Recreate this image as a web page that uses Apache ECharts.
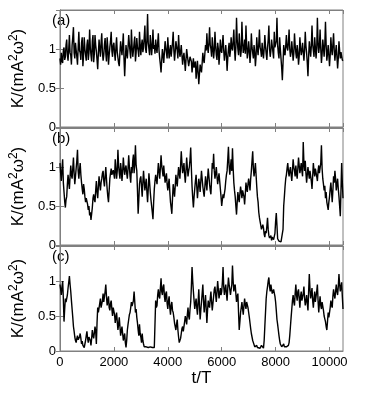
<!DOCTYPE html>
<html>
<head>
<meta charset="utf-8">
<title></title>
<script src="https://cdn.jsdelivr.net/npm/echarts@6/dist/echarts.min.js"></script>
<style>html,body{margin:0;padding:0;background:#fff;}</style>
</head>
<body>
<div id="mainChart" style="width:374px;height:394px;"></div>
<script type="text/javascript">
// sampling step along t/T (each row below = 1000 t/T)
var tStep = 25;

// panel (a) K/(mA^2 w^2), t = 0..10500
var kA = [
	0.88,0.80,0.95,0.85,0.82,0.98,1.02,0.86,0.90,1.05,1.12,0.92,0.85,1.00,1.18,0.95,0.92,0.80,1.05,1.15,
	1.28,0.95,0.88,1.08,1.10,0.90,0.80,1.02,1.22,0.98,0.95,0.86,1.08,1.15,0.78,0.92,1.15,1.00,0.98,0.85,
	1.05,1.12,0.86,0.95,1.25,1.02,0.92,0.84,1.10,1.18,0.83,0.94,1.18,1.05,0.97,0.86,0.74,0.95,1.12,1.00,
	0.90,1.08,1.20,0.96,0.85,0.92,1.06,1.14,0.95,0.84,1.15,1.02,0.80,0.92,1.02,1.10,1.22,0.98,0.90,1.05,
	1.08,0.95,0.85,1.02,1.15,0.96,0.94,0.82,0.78,0.96,1.10,1.00,0.92,1.05,1.20,0.88,0.65,0.86,1.05,0.94,
	0.88,1.02,1.18,1.06,0.96,0.88,1.25,1.04,0.90,0.98,1.08,1.16,0.84,0.95,1.14,1.02,0.98,0.90,1.22,1.05,
	0.92,1.05,1.12,0.96,1.02,1.15,1.30,1.00,0.95,1.12,1.45,1.08,1.00,0.92,1.18,1.06,0.92,1.04,1.25,1.00,
	1.05,0.94,1.12,1.02,0.95,1.08,1.20,0.98,0.88,0.80,0.70,0.86,1.00,0.92,0.82,0.96,1.10,1.02,0.95,0.88,
	1.15,1.00,0.88,0.98,1.05,0.90,0.92,1.08,1.22,0.98,0.85,0.96,1.10,1.04,0.98,0.88,1.18,1.00,0.90,0.96,
	1.05,0.92,0.80,0.90,0.95,0.84,0.72,0.86,1.00,0.92,0.85,0.78,0.78,0.90,0.92,0.84,0.70,0.80,0.88,0.76,
	0.75,0.84,0.62,0.72,0.85,0.70,0.55,0.68,0.80,0.74,0.70,0.82,0.95,0.86,0.82,0.94,1.05,0.98,1.20,1.02,
	0.95,1.08,1.28,1.05,1.00,0.90,1.15,1.02,0.88,0.98,1.22,1.04,0.92,0.86,1.08,1.00,0.80,0.94,1.12,0.98,
	0.95,1.06,1.18,0.98,0.85,0.94,1.05,0.92,0.72,0.88,1.00,1.08,0.90,0.98,1.15,1.02,0.98,1.10,1.25,1.00,
	0.85,1.02,1.40,1.12,1.00,0.92,1.20,1.04,0.90,0.98,1.35,1.08,0.95,1.02,1.12,0.94,1.30,1.05,0.88,0.96,
	1.10,0.98,0.82,0.95,1.20,1.02,0.95,0.88,1.05,0.96,0.78,0.90,1.15,1.00,0.92,1.06,1.25,1.02,0.98,0.90,
	1.08,0.96,0.88,1.00,1.18,1.04,0.94,0.86,1.02,1.12,1.30,1.00,0.90,0.98,1.12,1.04,0.96,0.88,1.22,1.02,
	1.00,1.10,1.40,1.05,0.95,0.88,1.15,1.00,0.88,0.76,0.60,0.82,1.05,0.96,0.92,1.04,1.18,1.02,0.98,1.08,
	1.25,1.00,0.90,0.96,1.10,0.98,0.85,0.94,1.20,1.05,0.95,0.88,1.05,0.96,0.80,0.90,1.15,1.02,0.92,0.98,
	1.08,0.96,0.85,0.98,1.22,1.04,0.95,0.82,0.65,0.90,1.10,1.00,0.90,1.04,1.30,1.06,0.98,0.90,1.15,1.02,
	0.88,1.00,1.40,1.08,0.95,1.04,1.25,1.00,0.82,0.94,1.12,1.02,0.90,1.06,1.35,1.05,0.85,0.94,1.05,0.92,
	0.78,0.92,1.15,1.00,0.92,1.06,1.20,0.98,0.85,0.96,1.05,0.90,0.75,0.88,1.10,0.98,0.88,0.96,0.98,0.86,0.85
];

// panel (b)
var kB = [
	1.05,0.92,0.82,0.98,1.10,0.80,0.68,0.56,0.48,0.58,0.62,0.78,0.90,0.80,0.72,0.88,1.02,0.90,0.85,0.98,
	1.12,0.92,0.78,0.88,0.98,1.08,1.22,0.95,0.85,0.96,1.05,0.90,0.80,0.72,0.65,0.78,0.72,0.62,0.55,0.60,
	0.60,0.52,0.45,0.50,0.38,0.42,0.32,0.40,0.48,0.60,0.65,0.58,0.55,0.70,0.82,0.68,0.60,0.75,0.88,0.78,
	0.70,0.80,0.85,0.92,0.95,0.82,0.75,0.88,1.00,0.85,0.72,0.62,0.55,0.70,0.85,0.92,0.98,0.90,0.88,0.96,
	0.95,0.85,1.10,0.98,0.85,0.95,1.22,1.02,0.92,0.85,1.05,0.96,0.82,0.94,1.12,1.00,0.90,0.98,1.02,0.92,
	0.85,0.98,1.15,1.00,0.88,0.80,1.00,0.92,1.08,1.16,0.92,1.05,1.28,1.02,0.95,0.70,0.40,0.58,0.78,0.85,
	0.88,0.75,0.62,0.80,0.95,0.82,0.70,0.78,0.85,0.68,0.55,0.72,0.92,0.80,0.68,0.58,0.50,0.42,0.33,0.55,
	0.72,0.82,0.90,0.84,0.78,0.92,1.05,0.95,0.85,0.98,1.15,1.02,0.95,0.88,1.02,0.90,0.80,0.86,0.92,0.78,
	0.70,0.78,0.85,0.68,0.55,0.48,0.40,0.60,0.78,0.70,0.62,0.75,0.90,0.82,0.75,0.88,1.00,0.92,0.85,1.02,
	1.20,1.05,0.92,0.98,1.05,0.90,0.80,0.95,1.12,1.00,0.88,0.95,1.00,1.10,1.25,0.98,0.75,0.60,0.48,0.62,
	0.72,0.82,0.90,0.75,0.60,0.72,0.85,0.78,0.68,0.82,0.95,0.85,0.75,0.68,0.62,0.75,0.88,0.80,0.70,0.85,
	0.98,0.88,0.78,0.70,0.65,0.85,1.05,0.98,1.17,0.95,0.85,0.92,1.00,0.88,0.78,0.85,0.92,0.82,0.72,0.62,
	0.50,0.58,0.65,0.60,0.58,0.72,0.82,0.90,0.95,1.10,1.26,1.02,0.90,1.00,1.10,0.95,1.24,0.98,0.80,0.70,
	0.62,0.50,0.39,0.55,0.68,0.60,0.55,0.66,0.75,0.68,0.60,0.70,0.72,0.62,0.52,0.65,0.80,0.72,0.68,0.78,
	0.85,0.78,0.70,0.85,0.95,1.08,1.20,0.98,0.88,0.96,1.05,0.90,0.75,0.62,0.55,0.42,0.35,0.30,0.25,0.20,
	0.18,0.26,0.22,0.14,0.10,0.18,0.15,0.24,0.35,0.20,0.12,0.09,0.08,0.12,0.06,0.10,0.12,0.07,0.05,0.15,
	0.30,0.41,0.25,0.08,0.06,0.05,0.04,0.05,0.04,0.06,0.05,0.20,0.50,0.62,0.75,0.85,0.90,0.98,1.05,0.95,
	0.88,0.95,1.00,0.90,0.82,0.95,1.10,1.00,0.95,0.88,1.02,0.92,0.85,0.98,1.12,1.02,0.92,0.98,1.05,0.95,
	0.88,1.32,1.05,0.95,1.08,0.92,0.80,0.90,1.00,0.92,0.85,0.95,0.95,0.82,0.72,0.88,1.05,0.95,0.88,0.98,
	0.98,0.88,0.82,0.95,1.02,0.92,0.90,1.05,1.28,0.98,0.85,0.78,0.70,0.76,0.60,0.68,0.55,0.50,0.45,0.55,
	0.62,0.72,0.80,0.68,0.55,0.70,0.88,0.80,0.95,0.85,0.70,0.78,0.85,0.72,0.62,0.50,0.37,0.70,1.05,0.80,0.60
];

// panel (c)
var kC = [
	0.95,0.88,0.80,0.92,1.00,0.75,0.42,0.60,0.75,0.70,0.68,0.80,0.90,0.98,1.07,0.95,0.85,0.72,0.60,0.48,
	0.35,0.28,0.20,0.15,0.12,0.18,0.22,0.16,0.15,0.20,0.25,0.18,0.10,0.14,0.08,0.06,0.05,0.10,0.15,0.22,
	0.28,0.18,0.12,0.20,0.22,0.15,0.08,0.18,0.30,0.22,0.18,0.26,0.35,0.28,0.10,0.40,0.62,0.55,0.55,0.68,
	0.75,0.62,0.60,0.72,0.82,0.70,0.70,0.85,0.95,0.78,0.65,0.72,0.78,0.62,0.58,0.68,0.72,0.60,0.50,0.62,
	0.62,0.52,0.40,0.48,0.55,0.42,0.30,0.38,0.48,0.35,0.22,0.28,0.35,0.25,0.15,0.20,0.25,0.12,0.05,0.15,
	0.30,0.38,0.45,0.52,0.55,0.62,0.70,0.64,0.62,0.72,0.85,0.70,0.55,0.60,0.48,0.40,0.30,0.22,0.38,0.25,
	0.20,0.12,0.25,0.15,0.10,0.06,0.05,0.04,0.06,0.05,0.04,0.05,0.05,0.04,0.06,0.05,0.04,0.05,0.05,0.04,
	0.05,0.06,0.72,0.62,0.65,0.80,0.88,0.78,0.75,0.90,1.04,0.85,0.80,0.92,0.95,0.78,0.70,0.82,0.85,0.68,
	0.60,0.72,0.78,0.62,0.52,0.65,0.70,0.58,0.55,0.48,0.40,0.35,0.30,0.38,0.45,0.30,0.20,0.12,0.10,0.18,
	0.25,0.32,0.35,0.28,0.30,0.42,0.50,0.44,0.38,0.52,0.62,0.50,0.45,0.60,0.70,0.92,1.20,1.00,0.85,0.72,
	0.60,0.68,0.75,0.62,0.52,0.70,0.88,0.65,0.45,0.58,0.70,0.82,0.95,0.72,0.55,0.68,0.80,0.60,0.40,0.58,
	0.72,0.65,0.62,0.75,0.85,0.70,0.58,0.68,0.78,0.88,0.92,0.80,0.70,0.85,1.00,0.88,0.75,0.82,0.90,0.80,
	0.85,0.98,1.20,0.92,0.80,0.88,0.95,0.82,0.72,0.90,1.05,0.95,0.88,0.80,0.78,0.95,1.22,1.00,0.85,0.92,
	0.95,0.82,0.70,0.78,0.82,0.55,0.30,0.42,0.55,0.62,0.70,0.60,0.52,0.65,0.75,0.66,0.60,0.70,0.68,0.62,
	0.55,0.48,0.40,0.32,0.25,0.20,0.15,0.12,0.10,0.06,0.05,0.07,0.08,0.05,0.04,0.06,0.06,0.04,0.05,0.08,
	0.10,0.06,0.04,0.15,0.35,0.55,0.75,0.85,0.92,1.00,1.05,0.92,0.85,0.95,0.95,0.82,0.80,0.88,0.90,0.78,
	0.70,0.58,0.45,0.38,0.30,0.22,0.15,0.10,0.08,0.06,0.05,0.08,0.10,0.06,0.04,0.05,0.06,0.04,0.05,0.08,
	0.12,0.22,0.35,0.48,0.60,0.72,0.80,0.70,0.65,0.82,0.95,0.80,0.72,0.85,0.88,0.75,0.62,0.78,0.85,0.72,
	0.70,0.82,0.92,0.75,0.65,0.72,0.80,0.68,0.58,0.85,1.10,0.88,0.75,0.82,0.90,0.72,0.62,0.75,0.85,0.70,
	0.70,0.85,0.95,0.72,0.55,0.68,0.78,0.65,0.60,0.70,0.72,0.58,0.50,0.46,0.42,0.35,0.30,0.42,0.55,0.48,
	0.48,0.62,0.72,0.65,0.62,0.78,0.88,0.80,0.75,0.85,0.95,0.85,0.80,0.92,1.10,0.95,0.85,0.92,0.98,0.78,0.60
];

var panelNames = ['(a)', '(b)', '(c)'];
var panelData = [kA, kB, kC];

var font = 'Liberation Sans, Arial, sans-serif';
var gray = '#808080';
var tops = [10, 128, 246];
var heights = [117, 117, 105];

function toPairs(arr) {
	var out = [];
	for (var i = 0; i < arr.length; i++) {
		out.push([i * tStep, arr[i]]);
	}
	return out;
}

var grids = [], xAxes = [], yAxes = [], series = [], graphics = [];

for (var p = 0; p < 3; p++) {
	grids.push({
		left: 49, width: 294, top: tops[p], height: heights[p],
		show: true, borderColor: gray, borderWidth: 1, backgroundColor: '#fff'
	});
	var isLast = (p === 2);
	// x axes on bottom and top, ticks inside
	['bottom', 'top'].forEach(function (pos) {
		xAxes.push({
			gridIndex: p, type: 'value', position: pos,
			min: 0, max: 10500, interval: 2000,
			axisLine: { show: true, onZero: false, lineStyle: { color: gray, width: 1 } },
			axisTick: { show: true, inside: true, length: 4, lineStyle: { color: gray } },
			axisLabel: {
				show: isLast && pos === 'bottom', showMaxLabel: false,
				color: '#000', fontSize: 13, fontFamily: font, margin: 5,
				formatter: function (v) { return String(v); }
			},
			splitLine: { show: false },
			name: (isLast && pos === 'bottom') ? 't/T' : '',
			nameLocation: 'middle', nameGap: 17,
			nameTextStyle: { color: '#000', fontSize: 17, fontFamily: font }
		});
	});
	['left', 'right'].forEach(function (pos) {
		yAxes.push({
			gridIndex: p, type: 'value', position: pos,
			min: 0, max: 1.5, interval: 0.5,
			axisLine: { show: true, lineStyle: { color: gray, width: 1 } },
			axisTick: { show: true, inside: true, length: 4, lineStyle: { color: gray } },
			axisLabel: {
				show: pos === 'left', color: '#000', fontSize: 13, fontFamily: font, margin: 4,
				formatter: function (v) { return v === 1.5 ? '' : String(v); }
			},
			splitLine: { show: false },
			name: pos === 'left' ? '{n|K/(mA}{s|2}{n|ω}{s|2}{n|)}' : '',
			nameLocation: 'middle', nameGap: 23, nameRotate: 90,
			nameTextStyle: {
				color: '#000', fontFamily: font,
				rich: {
					n: { fontSize: 17, fontFamily: font, color: '#000' },
					s: { fontSize: 12, fontFamily: font, color: '#000', padding: [0, 0, 9, 0] }
				}
			}
		});
	});
	series.push({
		type: 'line', xAxisIndex: p * 2, yAxisIndex: p * 2,
		data: toPairs(panelData[p]),
		showSymbol: false, symbol: 'none', sampling: null,
		lineStyle: { color: '#000', width: 1.4 },
		animation: false
	});
	graphics.push({
		type: 'text', left: 52, top: tops[p] + 3,
		style: { text: panelNames[p], fill: '#000', font: '15px ' + font }
	});
}

var myChart = echarts.init(document.getElementById('mainChart'));
var option = {
	backgroundColor: '#fff',
	animation: false,
	grid: grids,
	xAxis: xAxes,
	yAxis: yAxes,
	series: series,
	graphic: graphics
};
myChart.setOption(option);
</script>
</body>
</html>
